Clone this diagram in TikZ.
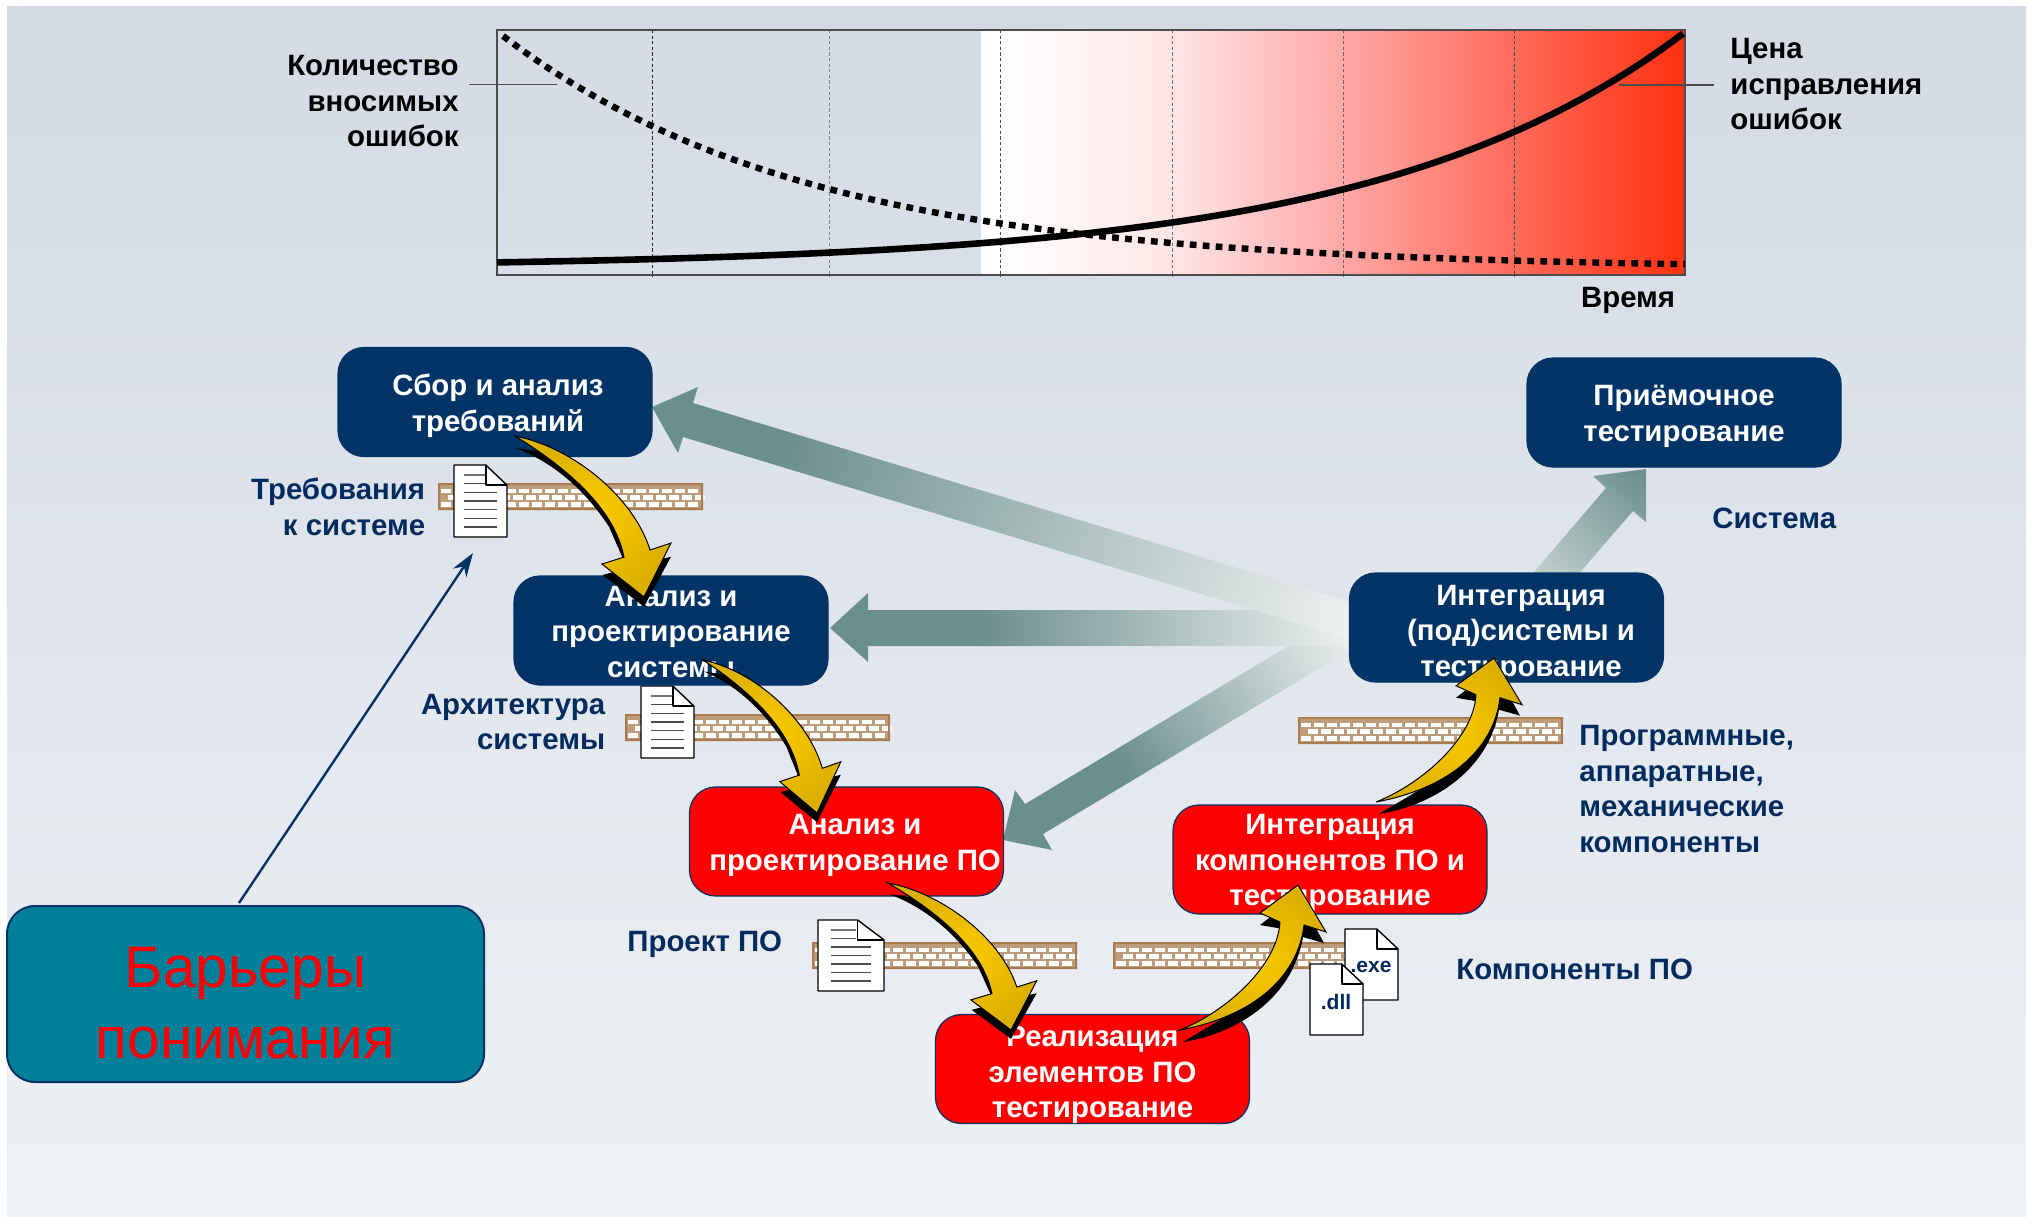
\documentclass[tikz,border=0pt]{standalone}
\usepackage{fontspec}
\setmainfont{Liberation Sans}
\usetikzlibrary{arrows.meta}
\definecolor{navy}{HTML}{003366}
\definecolor{labelnavy}{HTML}{002B5F}
\definecolor{tealar}{HTML}{6B8F8E}
\definecolor{brick}{HTML}{A97C50}
\definecolor{bartl}{HTML}{007F9A}
\definecolor{gold}{HTML}{FFCC00}
\definecolor{golddark}{HTML}{DBB000}
\definecolor{bgtop}{HTML}{D3DAE4}
\definecolor{bgbottom}{HTML}{EEF1F5}
\definecolor{rfa}{HTML}{FFE5E5}
\definecolor{rfb}{HTML}{FFA8A6}
\definecolor{rfc}{HTML}{FF6A5A}
\definecolor{rfd}{HTML}{FF3010}
\definecolor{fadeend}{HTML}{EDF1F0}
\definecolor{fadeone}{HTML}{B2C5C3}
\definecolor{fadetwo}{HTML}{C4D2D0}
\definecolor{fadethree}{HTML}{BAC9C8}
\definecolor{fadefour}{HTML}{A0B6B4}
\definecolor{fadefourend}{HTML}{CFDAD8}
\pgfdeclarehorizontalshading{redfade}{100bp}{
 color(0bp)=(white); color(25bp)=(white); color(26.3bp)=(white);
 color(38.6bp)=(rfa); color(50.7bp)=(rfb);
 color(62.9bp)=(rfc); color(75bp)=(rfd); color(100bp)=(rfd)}
\tikzset{
 x=0.5pt,y=-0.5pt,
 stage/.style={draw=navy,line width=0.6pt,rounded corners=13pt,minimum width=157pt,minimum height=54.5pt,inner sep=0pt},
 bluestage/.style={stage,fill=navy},
 redstage/.style={stage,fill=red},
 stagetext/.style={inner sep=0pt,align=center,text=white,font=\fontsize{14.7}{17.75}\selectfont\bfseries,
   execute at begin node={\rule{0pt}{14pt}},execute at end node={\rule[-3.5pt]{0pt}{3.5pt}}},
 barrierbox/.style={draw=navy,line width=1pt,fill=bartl,rounded corners=14pt,minimum width=238.5pt,minimum height=88pt,inner sep=0pt},
 barriertext/.style={inner sep=0pt,align=center,text=red,font=\fontsize{29.3}{35.5}\selectfont,
   execute at begin node={\rule{0pt}{32pt}},execute at end node={\rule[-3.5pt]{0pt}{3.5pt}}},
 chartlabel/.style={inner sep=0pt,text=black,font=\fontsize{14.7}{17.75}\selectfont\bfseries},
 navylabel/.style={inner sep=0pt,text=labelnavy,font=\fontsize{14.7}{17.75}\selectfont\bfseries},
 extlabel/.style={inner sep=0pt,text=labelnavy,font=\fontsize{10.5}{12}\selectfont\bfseries},
 vdash/.style={line width=0.5pt,dash pattern=on 1.6pt off 1.2pt},
 pointer/.style={line width=0.6pt,draw=black!70},
 gilded/.style={draw=black,line width=0.5pt,inner color=gold,outer color=golddark},
}
% style, name, x, y, text dx, text dy, text
\newcommand{\stagebox}[7]{%
 \node[#1] (#2) at (#3,#4) {};
 \node[stagetext] (#2text) at ({#3+#5},{#4+#6}) {#7};}
\newcommand{\brickwall}[2]{%
 \begin{scope}[shift={(#1,#2)}]
  \fill[brick!75!white] (0,0) rectangle (265,27);
  \foreach \r/\off in {0/0,1/6.5,2/0}{%
   \foreach \c in {0,...,19}{%
    \fill[white] ({3+\off+13*\c},{5.5+6.7*\r}) rectangle ({3+\off+13*\c+10},{5.5+6.7*\r+4.7});
   }}
  \fill[brick] (0,0) rectangle (265,2) (0,25) rectangle (265,27) (0,0) rectangle (2,27) (263,0) rectangle (265,27);
 \end{scope}}
\newcommand{\docshape}[4]{%
 \begin{scope}[shift={(#1,#2)},x=#3*0.5pt,y=-#4*0.5pt]
  \draw[fill=white,draw=black,line width=0.7pt,line join=round] (0,0) -- (.6,0) -- (1,.28) -- (1,1) -- (0,1) -- cycle;
  \draw[draw=black,line width=0.7pt,line join=round] (.6,0) -- (.6,.28) -- (1,.28);
 \end{scope}}
\newcommand{\docruled}[4]{%
 \docshape{#1}{#2}{#3}{#4}
 \begin{scope}[shift={(#1,#2)},x=#3*0.5pt,y=-#4*0.5pt]
  \draw[black!55,line width=0.6pt] (.19,.14) -- (.58,.14);
  \draw[black!70,line width=0.6pt] (.19,.26) -- (.58,.26);
  \foreach \v in {.38,.50,.62,.74,.86}{\draw[black!70,line width=0.6pt] (.19,\v) -- (.81,\v);}
 \end{scope}}
\newcommand{\golddown}[4]{%
 \begin{scope}[shift={(#1,#2)},x=#3*0.5pt,y=-#4*0.5pt]
  \fill[black] (.008,.075) .. controls (.28,.16) and (.53,.32) .. (.73,.565) -- (.83,.75) -- (.83,.83) -- (.68,.863) -- (1,1.06) -- (1.209,.75) -- (1.05,.78) -- (.8,.4) -- (.4,.12) -- cycle;
  \path[gilded,line join=miter] (0,0) .. controls (.45,.07) and (.92,.38) .. (1.047,.708) -- (1.209,.665) -- (1,1) -- (.674,.795) -- (.845,.752) .. controls (.80,.58) and (.65,.32) .. (0,0) -- cycle;
 \end{scope}}
\newcommand{\goldup}[4]{%
 \begin{scope}[shift={(#1,#2)},x=#3*0.5pt,y=#4*0.5pt]
  \fill[black] (.025,-.083) .. controls (.45,-.03) and (.95,.2) .. (1.042,.641) -- (1.22,.6) -- (1,.93) -- (.678,.724) -- (.85,.70) -- (.8,.4) -- (.4,.1) -- cycle;
  \path[gilded,line join=miter] (0,0) .. controls (.4,.13) and (.83,.45) .. (.847,.745) -- (.678,.807) -- (1,1) -- (1.237,.676) -- (1.051,.724) .. controls (1.0,.38) and (.65,.1) .. (0,0) -- cycle;
 \end{scope}}
\newcommand{\tealband}[8]{%
 \begin{scope}
  \clip #1;
  \begin{scope}[transform canvas={rotate around={#4:(#2,#3)}}]
   \fill[tealar] ({#2-40},{#3-120}) rectangle ({#2+#5+1},{#3+120});
   \shade[left color=tealar,middle color=#7,right color=#8] ({#2+#5},{#3-120}) rectangle ({#2+#6},{#3+120});
  \end{scope}
 \end{scope}}
\begin{document}
\begin{tikzpicture}
\useasboundingbox (0,0) rectangle (2033,1216);
\fill[white] (0,0) rectangle (2033,1216);
\shade[top color=bgtop,bottom color=bgbottom] (7,6) rectangle (2026,1216);
% chart
\path[shading=redfade,shading angle=0] (981,30) rectangle (1685,275);
\foreach \xx/\cc in {652/black!85,829/black!50,1000/black!70,1172/black!55,1343/black!60,1514.5/black!70}{
  \draw[vdash,draw=\cc] (\xx,30) -- (\xx,277);}
\draw[draw=black!70,line width=0.7pt] (497,30) rectangle (1685,275);
\draw[black,line width=3.3pt] plot[domain=497:1683,samples=90,smooth] (\x,{267.5-5.1*exp((\x-497)/310)});
\draw[black,line width=3.2pt,dash pattern=on 3.4pt off 3.1pt] plot[domain=503:1685,samples=90,smooth] (\x,{269-233*exp(-(\x-503)/305)});
\draw[pointer] (469,84.5) -- (557,84.5);
\draw[pointer,line width=1pt] (1619,85) -- (1713.5,85);
\node[chartlabel,align=right,anchor=east] (errlabel) at (459,101.5) {Количество\\вносимых\\ошибок};
\node[chartlabel,align=left,anchor=west] (costlabel) at (1730,84.5) {Цена\\исправления\\ошибок};
\node[chartlabel,anchor=base east] (timelabel) at (1675.5,307) {Время};
% teal arrows
\tealband{(1003,840) -- (1015,790) -- (1025,804) -- (1350,609) -- (1350,650) -- (1043,834) -- (1052,850) -- cycle}{1003}{840}{31}{138}{405}{fadethree}{fadeend}
\tealband{(830,628) -- (868,593) -- (868,610) -- (1350,610) -- (1350,646) -- (868,646) -- (868,662) -- cycle}{830}{628}{0}{150}{520}{fadetwo}{fadeend}
\tealband{(652,407) -- (698,387) -- (693,403) -- (1350,602) -- (1350,639) -- (683,437) -- (678,453) -- cycle}{652}{407}{-16.7}{135}{727}{fadeone}{fadeend}
\tealband{(1646,469) -- (1593,476) -- (1606,488) -- (1510,600) -- (1556,600) -- (1633,511) -- (1646,522) -- cycle}{1646}{469}{-130.6}{5}{173}{fadefour}{fadefourend}
% walls and documents
\brickwall{438}{483}
\brickwall{625}{714}
\brickwall{1298}{717}
\brickwall{812}{942}
\brickwall{1113}{942}
\docruled{454}{465}{53}{72}
\docruled{641}{686}{53}{72}
\docruled{818}{920}{66}{71}
\docshape{1345}{929}{53}{71}
\docshape{1310}{964}{53}{71}
\node[extlabel] (exelabel) at (1371,967) {.exe};
\node[extlabel] (dlllabel) at (1336,1002) {.dll};
% stages
\stagebox{bluestage}{req}{495}{402}{3}{4}{Сбор и анализ\\требований}
\stagebox{bluestage}{sysdes}{671}{630.5}{0}{4.5}{Анализ и\\проектирование\\системы}
\stagebox{redstage}{swdes}{846.5}{841.5}{8.5}{4.5}{Анализ и\\проектирование ПО}
\stagebox{redstage}{impl}{1092.5}{1069}{0}{6.5}{Реализация\\элементов ПО\\тестирование}
\stagebox{redstage}{compint}{1330}{859.5}{0}{4}{Интеграция\\компонентов ПО и\\тестирование}
\stagebox{bluestage}{sysint}{1506.5}{627.5}{14.5}{6.5}{Интеграция\\(под)системы и\\тестирование}
\stagebox{bluestage}{accept}{1684}{412.5}{0}{4.5}{Приёмочное\\тестирование}
\node[barrierbox] (barrier) at (245.5,994) {};
\node[barriertext] (barriertxt) at (245.5,1006) {Барьеры\\понимания};
% barrier pointer
\coordinate (bartail) at (239,903);
\coordinate (bartip) at (473,553);
\draw[navy,line width=1.2pt,-{Stealth[length=12pt,width=8pt]}] (bartail) -- (bartip);
% gold arrows
\golddown{515}{436}{129}{161}
\golddown{703}{660}{114}{153}
\golddown{888}{883}{123}{147}
\goldup{1180}{1030}{118}{145}
\goldup{1376}{802}{118}{144}
% labels
\node[navylabel,align=right,anchor=east] (reqlabel) at (425.5,507) {Требования\\к системе};
\node[navylabel,align=right,anchor=east] (archlabel) at (605.5,722) {Архитектура\\системы};
\node[navylabel,anchor=east] (prlabel) at (782.5,944.5) {Проект ПО};
\node[navylabel,align=left,anchor=west] (hwlabel) at (1579,789) {Программные,\\аппаратные,\\механические\\компоненты};
\node[navylabel,anchor=west] (complabel) at (1456,969) {Компоненты ПО};
\node[navylabel,anchor=west] (syslabel) at (1712,518) {Система};
\end{tikzpicture}
\end{document}
